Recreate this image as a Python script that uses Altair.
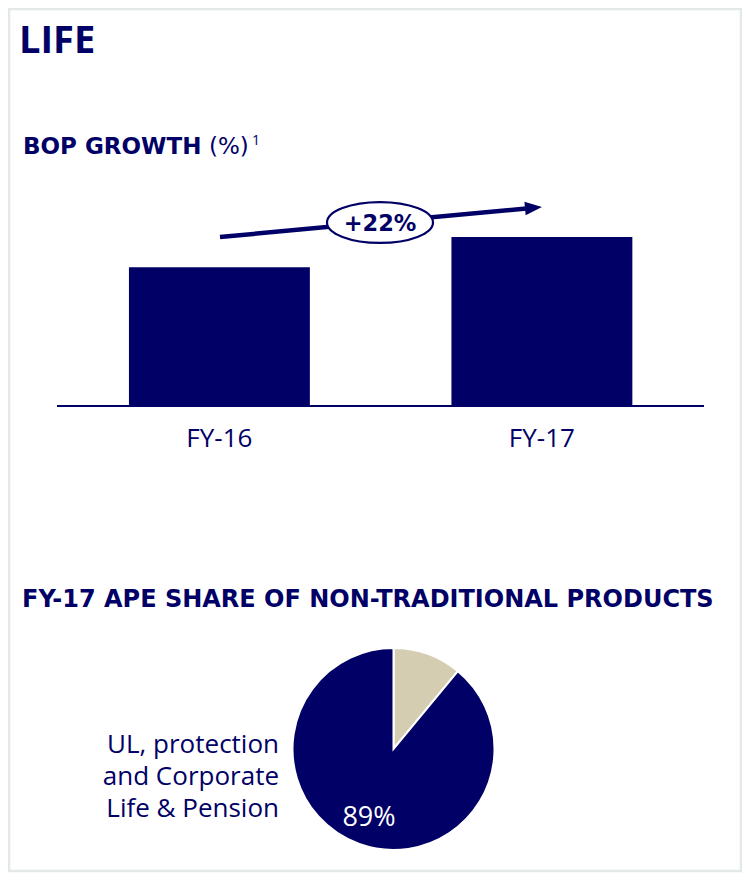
import altair as alt
import pandas as pd

# ---- data ----
years = ["FY-16", "FY-17"]
bop_index = [100, 122]          # BOP indexed, FY-16 = 100 (+22%)
growth_label = "+22%"
pie_segments = ["Traditional", "UL, protection and Corporate Life & Pension"]
pie_share = [11, 89]
pie_label = "89%"
pie_caption = ["UL, protection", "and Corporate", "Life & Pension"]

NAVY = "#000066"
BEIGE = "#d4cdb2"
BORDER = "#e3e8e8"
FONT = "Open Sans"
BOLD = "DejaVu Sans"

W, H = 734, 865


def single(text=""):
    return alt.Chart(pd.DataFrame({"t": [text]}))


border = single().mark_rect(fillOpacity=0, stroke=BORDER, strokeWidth=2.5).encode(
    x=alt.value(1), x2=alt.value(733), y=alt.value(1), y2=alt.value(863)
)

title = single("LIFE").mark_text(
    font=FONT, fontSize=38, fontWeight="bold", color=NAVY, align="left", baseline="alphabetic"
).encode(x=alt.value(11), y=alt.value(45), text="t:N")

sub1a = single("BOP GROWTH").mark_text(
    font=BOLD, fontSize=23, fontWeight="bold", color=NAVY, align="left", baseline="alphabetic"
).encode(x=alt.value(15), y=alt.value(145.5), text="t:N")
sub1b = single("(%)").mark_text(
    font=BOLD, fontSize=23, fontWeight="normal", color=NAVY, align="left", baseline="alphabetic"
).encode(x=alt.value(201), y=alt.value(145.5), text="t:N")
sub1c = single("1").mark_text(
    font=FONT, fontSize=14, color=NAVY, align="left", baseline="alphabetic"
).encode(x=alt.value(244), y=alt.value(137), text="t:N")

bop = pd.DataFrame({"year": years, "value": bop_index})
xs = alt.Scale(domain=years, range=[50, 695.3], paddingInner=0.439, paddingOuter=0.22)
ys = alt.Scale(domain=[0, 122], range=[397, 229], nice=False, zero=True)

bars = alt.Chart(bop).mark_bar(color=NAVY).encode(
    x=alt.X("year:N", scale=xs, axis=None, sort=years),
    y=alt.Y("value:Q", scale=ys, axis=None),
)
bar_labels = alt.Chart(bop).mark_text(
    font=FONT, fontSize=26, color=NAVY, baseline="alphabetic"
).encode(
    x=alt.X("year:N", scale=xs, axis=None, sort=years),
    y=alt.value(439),
    text="year:N",
)
baseline_rule = single().mark_rule(color=NAVY, strokeWidth=2).encode(
    x=alt.value(49), x2=alt.value(696), y=alt.value(398)
)

arrow_line = single().mark_rule(color=NAVY, strokeWidth=4.5, strokeCap="butt").encode(
    x=alt.value(212), y=alt.value(229), x2=alt.value(521), y2=alt.value(200.2)
)
arrow_head = single().mark_point(
    shape="M -1 -0.8 L 1 0 L -1 0.8 Z", filled=True, color=NAVY, opacity=1,
    size=289, angle=354.7
).encode(x=alt.value(525.5), y=alt.value(199.8))

ellipse = single().mark_point(
    shape="M -1 0 A 1 0.385 0 1 1 1 0 A 1 0.385 0 1 1 -1 0 Z",
    filled=True, fill="white", stroke=NAVY, strokeWidth=2.2, opacity=1, size=11236
).encode(x=alt.value(372), y=alt.value(214.5))
growth_text = single(growth_label).mark_text(
    font=BOLD, fontSize=22.5, fontWeight="bold", color=NAVY, baseline="alphabetic"
).encode(x=alt.value(372), y=alt.value(222.5), text="t:N")

sub2 = single("FY-17 APE SHARE OF NON-TRADITIONAL PRODUCTS").mark_text(
    font=BOLD, fontSize=24, fontWeight="bold", color=NAVY, align="left", baseline="alphabetic"
).encode(x=alt.value(14), y=alt.value(599), text="t:N")

pie_df = pd.DataFrame({"seg": pie_segments, "share": pie_share, "idx": [0, 1]})
pie = alt.Chart(pie_df).mark_arc(radius=101, stroke="white", strokeWidth=2).encode(
    theta=alt.Theta("share:Q", stack=True),
    color=alt.Color("seg:N", scale=alt.Scale(domain=pie_segments, range=[BEIGE, NAVY]), legend=None),
    order=alt.Order("idx:Q"),
    x=alt.value(385.5),
    y=alt.value(741),
)
pie_text = single(pie_label).mark_text(
    font=FONT, fontSize=27, color="white", baseline="alphabetic"
).encode(x=alt.value(361), y=alt.value(818), text="t:N")

caption_layers = [
    single(line).mark_text(
        font=FONT, fontSize=26, color=NAVY, align="right", baseline="alphabetic"
    ).encode(x=alt.value(271), y=alt.value(745 + 32 * i), text="t:N")
    for i, line in enumerate(pie_caption)
]

chart = alt.layer(
    border, title, sub1a, sub1b, sub1c,
    bars, baseline_rule, bar_labels,
    arrow_line, arrow_head, ellipse, growth_text,
    sub2, pie, pie_text, *caption_layers,
).properties(
    width=W, height=H, padding=0, autosize="none"
).configure_view(stroke=None)

chart.save("out.html", embed_options={"renderer": "svg", "actions": False})
